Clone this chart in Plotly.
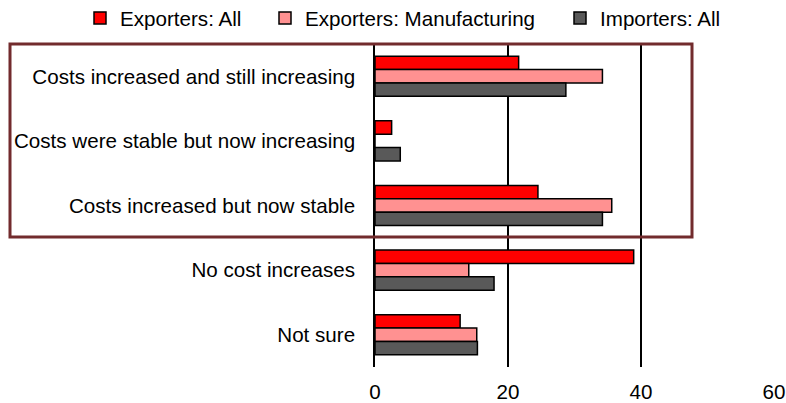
import plotly.graph_objects as go

categories = [
    "Costs increased and still increasing",
    "Costs were stable but now increasing",
    "Costs increased but now stable",
    "No cost increases",
    "Not sure",
]
exporters_all = [21.6, 2.5, 24.5, 38.9, 12.8]
exporters_manufacturing = [34.2, 0, 35.6, 14.1, 15.3]
importers_all = [28.7, 3.8, 34.2, 17.9, 15.4]
x_ticks = [0, 20, 40, 60]

FONT = "Liberation Sans, Arial, sans-serif"
FS = 20.6

series = [
    ("Exporters: All", exporters_all, "#FF0000", "legend2"),
    ("Exporters: Manufacturing", exporters_manufacturing, "#FF9191", "legend3"),
    ("Importers: All", importers_all, "#595959", "legend4"),
]

fig = go.Figure()
for name, vals, color, lg in series:
    fig.add_trace(go.Bar(
        y=categories, x=vals, name=name, orientation="h",
        marker=dict(color=color, line=dict(color="black", width=1.5)),
        legend=lg, showlegend=True,
    ))

W, H = 786, 403
L, R, T, B = 375, 12, 44, 36
pw = W - L - R
ph = H - T - B

def px_x(p):
    return (p - L) / pw

def px_y(p):
    return (H - B - p) / ph

leg_common = dict(orientation="h", yanchor="middle", xanchor="left",
                  font=dict(family=FONT, size=FS, color="black"),
                  bgcolor="rgba(0,0,0,0)", itemwidth=30)

fig.update_layout(
    width=W, height=H,
    margin=dict(l=L, r=R, t=T, b=B, autoexpand=False),
    paper_bgcolor="white", plot_bgcolor="white",
    barmode="group", bargap=0.38, bargroupgap=0,
    font=dict(family=FONT, size=FS, color="black"),
    legend2=dict(x=px_x(80), y=px_y(18), **leg_common),
    legend3=dict(x=px_x(265), y=px_y(18), **leg_common),
    legend4=dict(x=px_x(560), y=px_y(18), **leg_common),
    xaxis=dict(range=[0, 60], tickvals=x_ticks, ticktext=[str(v) for v in x_ticks],
               showgrid=True, gridcolor="black", gridwidth=1.5,
               zeroline=False, showline=False, ticks="", ticklabelstandoff=10,
               tickfont=dict(family=FONT, size=FS)),
    yaxis=dict(autorange="reversed", showline=True, linecolor="black", linewidth=1.5,
               ticks="", ticklabelstandoff=14, showgrid=False,
               tickfont=dict(family=FONT, size=FS)),
    shapes=[dict(type="rect", xref="paper", yref="paper",
                 x0=px_x(10), x1=px_x(692), y0=px_y(237), y1=px_y(44),
                 line=dict(color="#722B2D", width=3), fillcolor="rgba(0,0,0,0)")],
)

fig.write_html("out.html", config={"displayModeBar": False},
               post_script="document.body.style.margin='0';")
